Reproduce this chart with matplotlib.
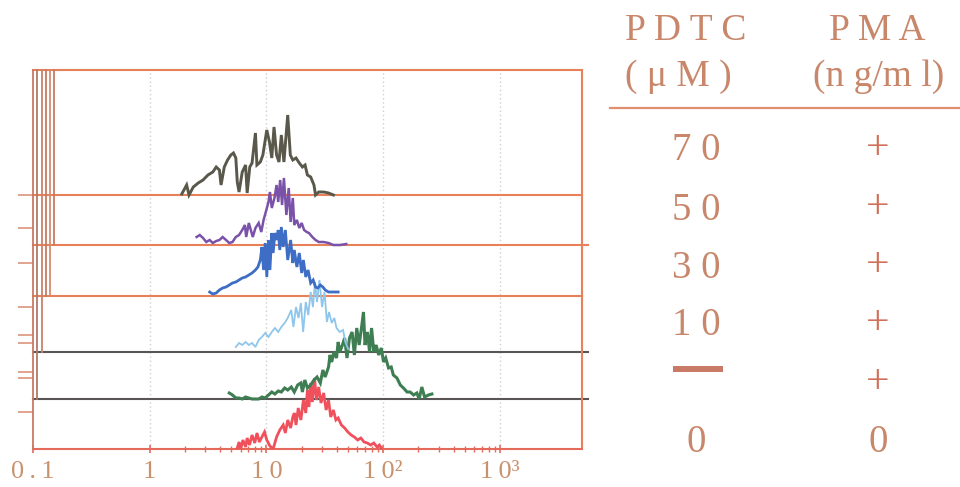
import matplotlib
matplotlib.use('Agg')
import matplotlib.pyplot as plt
from matplotlib.lines import Line2D

plt.rcParams['font.family'] = ['Liberation Serif', 'DejaVu Serif']

# ---------------- data (fluorescence intensity, counts) ----------------
pdtc70_x = [1.88, 2.07, 2.17, 2.36, 2.60, 2.86, 3.15, 3.47, 3.71, 3.95, 4.08, 4.35, 4.64, 4.95, 5.21,
            5.46, 5.62, 5.82, 6.20, 6.62, 6.83, 7.19, 7.52, 8.04, 8.28, 8.85, 9.31, 10.06, 10.6, 11.1,
            11.6, 12.2, 12.8, 13.4, 14.1, 15.2, 16.0, 16.8, 17.9, 19.1, 20.3, 21.4, 22.4, 23.9, 25.5,
            26.3, 28.0, 30.9, 34.0, 37.4]
pdtc70_y = [1, 10, 0, 8, 12, 15, 20, 23, 28, 25, 10, 28, 35, 40, 42,
            37, 13, 3, 23, 30, 2, 28, 32, 62, 30, 33, 40, 65, 53, 37,
            68, 40, 33, 60, 33, 80, 40, 35, 37, 32, 28, 30, 20, 18, 10,
            0, 3, 3, 2, 0]

pdtc50_x = [2.52, 2.68, 2.86, 3.05, 3.26, 3.47, 3.71, 3.95, 4.21, 4.50, 4.80, 5.11, 5.46, 5.82, 6.20,
            6.53, 6.70, 7.06, 7.34, 7.63, 8.04, 8.57, 9.02, 9.44, 9.86, 10.4, 10.7, 11.1, 11.7, 12.2,
            12.6, 13.1, 13.6, 14.1, 14.8, 15.5, 16.1, 16.8, 17.3, 18.2, 19.1, 20.0, 21.0, 22.1, 23.1,
            24.7, 26.3, 28.0, 30.9, 34.0, 37.4, 42.5, 48.2]
pdtc50_y = [8, 10, 7, 3, 5, 2, 4, 5, 8, 5, 2, 3, 8, 10, 15,
            20, 8, 22, 15, 8, 17, 22, 13, 25, 33, 43, 53, 37, 47, 60,
            43, 65, 40, 67, 30, 57, 23, 47, 20, 25, 17, 22, 15, 13, 12,
            8, 5, 3, 3, 2, 0, 0, 1]

pdtc30_x = [3.26, 3.47, 3.71, 3.95, 4.21, 4.50, 4.80, 5.11, 5.46, 5.82, 6.20, 6.62, 7.06, 7.52, 8.04,
            8.44, 8.85, 9.14, 9.44, 9.75, 10.06, 10.4, 10.7, 11.1, 11.4, 11.8, 12.2, 12.6, 13.0, 13.4,
            13.9, 14.5, 15.2, 16.1, 16.8, 17.3, 18.2, 19.1, 20.0, 20.7, 21.7, 22.7, 23.9, 25.1, 26.3,
            27.5, 28.9, 30.4, 31.8, 34.0, 37.4, 41.1]
pdtc30_y = [4, 2, 3, 6, 8, 9, 11, 13, 14, 16, 18, 19, 21, 23, 26,
            29, 36, 49, 26, 53, 19, 56, 26, 63, 43, 63, 56, 66, 46, 69,
            49, 66, 36, 56, 33, 46, 29, 43, 23, 36, 19, 26, 13, 16, 9,
            8, 11, 9, 6, 4, 4, 4]

pdtc10_x = [5.46, 5.82, 6.20, 6.62, 7.06, 7.52, 8.04, 8.57, 9.14, 9.75, 10.4, 11.1, 11.8, 12.6, 13.4,
            14.3, 15.2, 16.3, 17.0, 17.9, 18.8, 19.7, 20.6, 21.7, 22.8, 23.9, 25.0, 26.0, 27.1, 28.4,
            29.9, 31.4, 32.9, 34.3, 36.2, 38.1, 39.8, 42.4, 45.3, 47.3, 50.1]
pdtc10_y = [5, 9, 7, 10, 7, 9, 5, 12, 15, 19, 15, 20, 24, 20, 25,
            29, 34, 42, 25, 45, 34, 49, 20, 50, 37, 60, 45, 70, 50, 72,
            45, 60, 30, 40, 29, 34, 24, 20, 22, 10, 3]

pma_only_x = [4.80, 5.11, 5.46, 5.82, 6.20, 6.62, 7.06, 7.52, 8.04, 8.57, 9.14, 9.75, 10.4, 11.1, 11.8,
              12.6, 13.4, 14.3, 15.2, 16.3, 17.3, 18.5, 19.7, 20.3, 21.3, 22.4, 23.9, 25.5, 27.1, 28.9,
              30.4, 31.8, 34.0, 35.0, 36.2, 37.8, 39.8, 41.1, 42.5, 44.7, 46.7, 48.9, 51.4, 54.1, 56.6,
              59.3, 62.2, 65.6, 67.7, 69.8, 73.1, 76.4, 79.4, 83.0, 86.9, 91.4, 96.2, 100.6, 105, 111,
              117, 122, 131, 140, 149, 160, 170, 182, 194, 203, 214, 226, 244, 261]
pma_only_y = [6, 4, 1, 1, 0, 2, 1, 0, 0, 0, 2, 1, 4, 7, 5,
              8, 7, 11, 9, 12, 7, 14, 16, 7, 19, 11, 14, 19, 22, 16,
              29, 22, 32, 44, 37, 47, 41, 57, 47, 54, 61, 41, 61, 67, 44,
              71, 54, 74, 87, 54, 67, 47, 71, 47, 54, 44, 51, 37, 41, 31,
              32, 24, 21, 14, 11, 7, 7, 4, 6, 0, 12, 2, 4, 5]

control_x = [5.62, 5.82, 6.01, 6.28, 6.62, 6.83, 7.15, 7.52, 7.93, 8.29, 8.68, 9.13, 9.62, 10.06, 10.7,
             11.4, 12.2, 13.0, 13.9, 14.5, 15.2, 16.1, 16.8, 17.3, 17.9, 18.7, 19.7, 20.7, 21.7, 22.4,
             23.1, 23.9, 24.7, 25.8, 26.8, 28.0, 29.3, 30.9, 32.4, 34.0, 35.5, 37.4, 39.3, 41.1, 43.8,
             46.7, 49.8, 53.1, 56.6, 60.4, 64.3, 68.5, 73.1, 77.9, 83.0, 88.6, 92.6, 97.5]
control_y = [1, 7, 0, 9, 2, 11, 4, 14, 6, 16, 7, 12, 17, 9, 3,
             0, 12, 19, 24, 16, 29, 21, 32, 36, 24, 41, 29, 49, 36, 59,
             42, 66, 47, 71, 49, 62, 46, 56, 39, 49, 32, 39, 29, 31, 24,
             21, 17, 14, 12, 9, 11, 7, 6, 4, 6, 2, 4, 0]

x_tick_values = [0.1, 1, 10, 100, 1000]
x_tick_labels = ['0\u2009.\u20091', '1', '1\u20090', '1\u20090\u00b2', '1\u20090\u00b3']

pdtc_labels = ['7 0', '5 0', '3 0', '1 0', '\u2014', '0']
pma_labels = ['+', '+', '+', '+', '+', '0']

# ---------------- styling / layout ----------------
W, H = 960, 487
fig = plt.figure(figsize=(W / 100, H / 100), dpi=100)
ax = fig.add_axes([33 / W, (H - 449) / H, 549 / W, 379 / H])
ax.set_xscale('log')
ax.set_xlim(0.1, 5040)
ax.set_ylim(0, 379)

ORANGE = '#e8805a'
GREY = '#5a5555'
TXT = '#c8866a'

# stacked histograms: (x, counts, baseline offset, colour, linewidth, baseline colour, right extension)
series = [
    (control_x, control_y, 0, '#f0505c', 2.0, None, 0),
    (pma_only_x, pma_only_y, 50, '#3e7e52', 2.2, GREY, 6),
    (pdtc10_x, pdtc10_y, 97, '#8ec6ec', 1.3, GREY, 6),
    (pdtc30_x, pdtc30_y, 153, '#3d6dc4', 2.0, ORANGE, 0),
    (pdtc50_x, pdtc50_y, 204, '#7b52aa', 1.8, ORANGE, 6),
    (pdtc70_x, pdtc70_y, 254, '#59584a', 2.1, ORANGE, 0),
]

ytr = ax.get_yaxis_transform()
for xs, ys, off, col, lw, bcol, ext in series:
    if bcol is not None:
        ax.plot([0, 1 + ext / 549], [off, off], color=bcol, lw=1.5, transform=ytr,
                clip_on=False, zorder=2)
    ax.plot(xs, [off + v for v in ys], color=col, lw=lw, zorder=4, solid_joinstyle='miter')

# offset left axes of each stacked panel
left_offsets = [0, 4, 9, 13, 17, 21]
left_bottoms = [0, 50, 97, 153, 153, 204]
left_cols = ['#c87a62', '#b07a68', '#c8846a', '#c87a62', '#d88a6a', '#c87a62']
for o, b, c in zip(left_offsets, left_bottoms, left_cols):
    ax.plot([o / 549, o / 549], [b, 379], color=c, lw=1.3, transform=ytr, clip_on=False, zorder=3)

# spines
ax.spines['left'].set_visible(False)
ax.spines['top'].set_color(ORANGE)
ax.spines['right'].set_color(ORANGE)
ax.spines['bottom'].set_color('#e46a5c')
for s in ['top', 'right', 'bottom']:
    ax.spines[s].set_linewidth(1.5)

# ticks and dotted grid
ax.set_xticks(x_tick_values)
ax.set_xticklabels(x_tick_labels, fontsize=19, color='#c8926e')
minor = [m * d for d in (1, 10, 100) for m in range(2, 10)]
ax.set_xticks(minor, minor=True)
ax.set_xticklabels([], minor=True)
ax.tick_params(axis='x', which='major', direction='inout', length=6, width=1.2,
               color='#e46a5c', pad=6)
ax.tick_params(axis='x', which='minor', direction='inout', length=4, width=1.0,
               color='#e46a5c')
for v in [1, 10, 100, 1000]:
    ax.axvline(v, color='#cfcfcf', ls=(0, (1, 2)), lw=1.0, zorder=1)

# y ticks on the left
ax.set_yticks([254, 221, 186, 142, 114, 106, 77, 71, 37])
ax.tick_params(axis='y', which='major', direction='out', length=11, width=1.1,
               color='#d88c70', labelleft=False)
ax.tick_params(axis='y', which='minor', left=False)

# ---------------- right-hand legend table ----------------
def fx(px):
    return px / W

def fy(py):
    return 1 - py / H

fig.text(fx(686), fy(40), 'P D T C', ha='center', va='baseline', fontsize=27, color=TXT)
fig.text(fx(678), fy(86), '( \u03bc M )', ha='center', va='baseline', fontsize=27, color=TXT)
fig.text(fx(877), fy(40), 'P M A', ha='center', va='baseline', fontsize=27, color=TXT)
fig.text(fx(879), fy(86), '(n g/m l)', ha='center', va='baseline', fontsize=27, color=TXT)
fig.add_artist(Line2D([fx(610), fx(960)], [fy(107.5), fy(107.5)], color='#e0906e', lw=1.6))

pdtc_base = [160, 220, 278, 335, 369, 452]
pma_base = [159, 218, 276, 334, 393, 452]
for lab, yb in zip(pdtc_labels, pdtc_base):
    if lab == '\u2014':
        fig.add_artist(Line2D([fx(673), fx(723)], [fy(yb), fy(yb)], color='#c87a66', lw=4.3,
                              solid_capstyle='butt'))
    else:
        fig.text(fx(696), fy(yb), lab, ha='center', va='baseline', fontsize=28, color=TXT)
for lab, yb in zip(pma_labels, pma_base):
    col = '#d0705a' if lab == '+' else TXT
    fig.text(fx(878), fy(yb), lab, ha='center', va='baseline', fontsize=30 if lab == '+' else 28,
             color=col)

fig.savefig('out.png', dpi=100)
